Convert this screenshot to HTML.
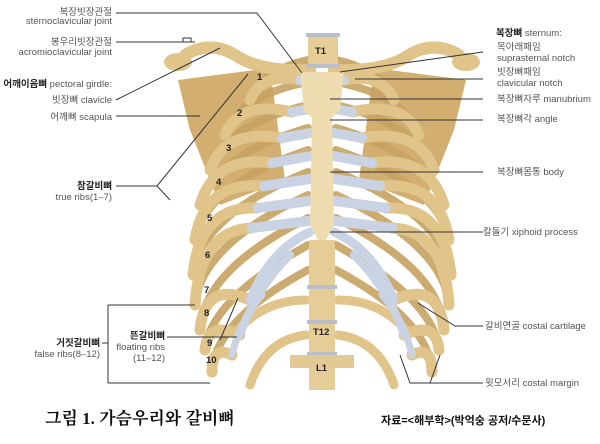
<!DOCTYPE html>
<html><head><meta charset="utf-8"><style>
html,body{margin:0;padding:0;background:#fff;width:600px;height:444px;overflow:hidden}
svg text{font-family:"Liberation Sans","Noto Sans CJK KR",sans-serif;font-size:9.5px;fill:#555}
.b{fill:#222;font-weight:bold}
.ln{stroke:#333;stroke-width:1;fill:none}
.bone{fill:none;stroke:#e0c48a;stroke-linecap:round}
.bo{fill:none;stroke:#c7a262;stroke-linecap:round}
.cart{fill:none;stroke:#c9d3e3;stroke-linecap:round}
</style></head><body>
<svg width="600" height="444" viewBox="0 0 600 444" xmlns="http://www.w3.org/2000/svg">
<path d="M178,80 L270,68 L285,180 L220,205 L190,130 Z" fill="#d2ae70"/>
<path d="M466,80 L374,68 L359,180 L424,205 L454,130 Z" fill="#d2ae70"/>
<g id="L">
<g class="bo" stroke-width="8" opacity="0.9">
<path d="M250,100 Q262,70 308,60"/><path d="M225,135 Q240,95 308,82"/><path d="M210,170 Q225,125 308,105"/>
<path d="M200,205 Q215,155 308,128"/><path d="M195,240 Q205,185 308,150"/><path d="M193,275 Q200,215 308,172"/>
<path d="M195,305 Q200,245 308,195"/><path d="M200,330 Q203,270 308,218"/><path d="M205,350 Q210,300 308,245"/>
<path d="M212,372 Q215,320 308,270"/>
</g>
<path class="bone" stroke-width="9" d="M306,300 Q265,300 238,330"/>
<path class="bone" stroke-width="9" d="M306,335 Q265,340 250,385"/>
<g class="bone" stroke-width="11">
<path d="M300,80 Q262,72 250,100"/><path d="M292,112 Q240,100 225,135"/><path d="M282,138 Q225,128 210,170"/>
<path d="M272,163 Q215,155 200,205"/><path d="M264,186 Q205,180 195,240"/><path d="M258,208 Q200,205 193,275"/>
<path d="M252,228 Q200,230 195,305"/><path d="M250,300 Q205,280 200,330"/><path d="M240,335 Q208,320 205,350"/>
<path d="M232,355 Q212,345 212,372"/>
</g>
<g class="cart" stroke-width="10">
<path d="M316,80 L300,80"/><path d="M316,108 L292,112"/><path d="M316,132 L282,138"/><path d="M316,155 L272,163"/>
<path d="M316,178 L264,186"/><path d="M316,200 L258,208"/><path d="M316,220 L252,228"/>
<path d="M310,232 Q270,250 250,300" stroke-width="9"/><path d="M290,255 Q255,290 240,335" stroke-width="8"/><path d="M262,295 Q240,320 232,355" stroke-width="7"/>
</g>
<path class="bone" stroke-width="12" d="M310,70 Q260,72 235,55 Q210,40 185,55"/>
<ellipse cx="178" cy="62" rx="14" ry="9" fill="#e0c48a"/>
</g>
<use href="#L" transform="translate(644,0) scale(-1,1)"/>
<rect x="308" y="35" width="30" height="30" fill="#e6cd98"/><rect x="306" y="33" width="34" height="4" fill="#b9bfc8"/><rect x="306" y="64" width="34" height="4" fill="#b9bfc8"/>
<rect x="309" y="240" width="26" height="150" fill="#e6cd98"/>
<rect x="307" y="285" width="30" height="4" fill="#b9bfc8"/><rect x="307" y="320" width="30" height="4" fill="#b9bfc8"/><rect x="307" y="352" width="30" height="4" fill="#b9bfc8"/>
<path d="M290,355 L354,355 L354,368 L290,368 Z" fill="#e3c993"/>
<path d="M300,72 L344,72 L340,110 L332,118 L334,225 L326,240 L318,240 L310,225 L312,118 L304,110 Z" fill="#efdcb0"/>
<g font-weight="bold" style="font-size:10px">
<text x="315" y="54" class="b">T1</text><text x="313" y="335" class="b">T12</text><text x="316" y="371" class="b">L1</text>
<text x="257" y="80" class="b">1</text><text x="237" y="116" class="b">2</text><text x="226" y="151" class="b">3</text><text x="216" y="185" class="b">4</text>
<text x="207" y="221" class="b">5</text><text x="205" y="258" class="b">6</text><text x="204" y="293" class="b">7</text><text x="204" y="316" class="b">8</text>
<text x="207" y="346" class="b">9</text><text x="206" y="363" class="b">10</text>
</g>
<g text-anchor="end">
<text x="112" y="15">복장빗장관절</text><text x="112" y="24">sternoclavicular joint</text>
<text x="112" y="45">봉우리빗장관절</text><text x="112" y="55">acromioclavicular joint</text>
<text x="112" y="87"><tspan class="b">어깨이음뼈</tspan> pectoral girdle:</text>
<text x="112" y="103">빗장뼈 clavicle</text>
<text x="112" y="120">어깨뼈 scapula</text>
<text x="112" y="189" class="b">참갈비뼈</text><text x="112" y="200">true ribs(1–7)</text>
<text x="100" y="346" class="b">거짓갈비뼈</text><text x="100" y="357">false ribs(8–12)</text>
<text x="165" y="339" class="b">뜬갈비뼈</text><text x="165" y="350">floating ribs</text><text x="165" y="361">(11–12)</text>
</g>
<g class="ln">
<path d="M116,13 L257,13 L302,73"/><path d="M116,42 L195,42 M183,42 v-4 h8 v4"/>
<path d="M116,100 L220,48"/><path d="M116,116 L200,116"/>
<path d="M116,186 L157,186 L248,74 M157,186 L170,200"/>
<path d="M102,343 L108,343 M108,305 L108,383 M108,305 L195,305 M108,383 L210,383"/>
<path d="M167,337 L237,337 M220,340 L238,298"/>
<path d="M483,52 L340,72 M483,79 L355,79 M483,99 L330,99 M483,120 L330,120 M483,172 L330,172 M483,232 L330,232"/>
<path d="M483,326 L455,326 L418,303 M483,383 L410,383 L400,355 M430,383 L440,355"/>
</g>
<text x="496" y="36"><tspan class="b">복장뼈</tspan> sternum:</text>
<text x="497" y="50">목아래패임</text><text x="497" y="61">suprasternal notch</text>
<text x="497" y="75">빗장뼈패임</text><text x="497" y="86">clavicular notch</text>
<text x="497" y="102">복장뼈자루 manubrium</text><text x="497" y="122">복장뼈각 angle</text>
<text x="497" y="175">복장뼈몸통 body</text><text x="483" y="235">칼돌기 xiphoid process</text>
<text x="485" y="329">갈비연골 costal cartilage</text><text x="485" y="386">윗모서리 costal margin</text>
<text x="45" y="424" style="font-family:'Liberation Serif','Noto Serif CJK SC',serif;font-size:17px;font-weight:bold;fill:#111">그림 1. 가슴우리와 갈비뼈</text>
<text x="381" y="424" style="font-size:11px;font-weight:bold;fill:#111">자료=&lt;해부학&gt;(박억숭 공저/수문사)</text>
</svg>
</body></html>
